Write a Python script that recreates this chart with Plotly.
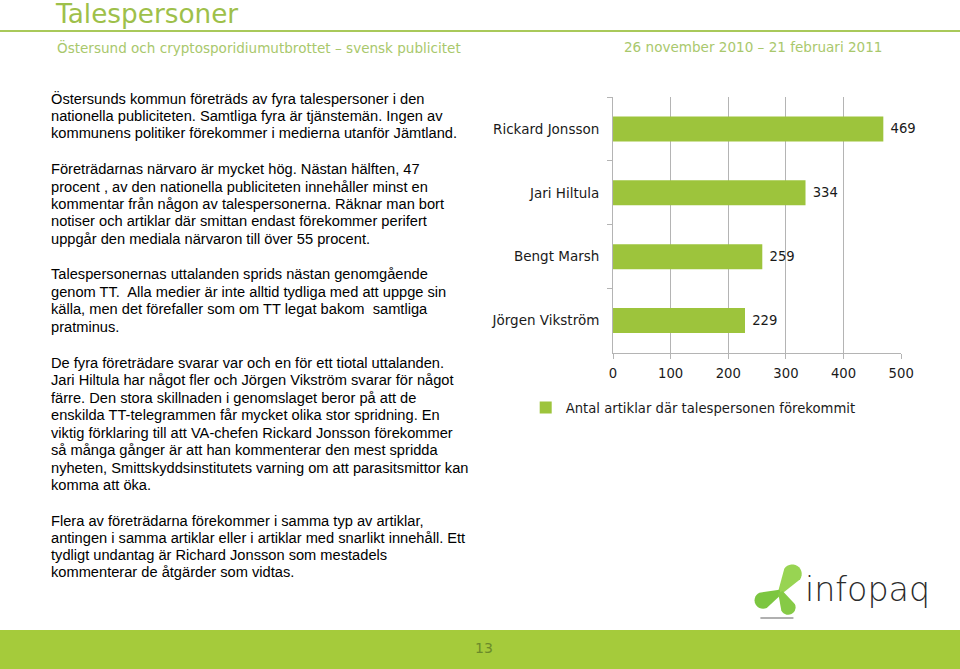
import math
import plotly.graph_objects as go

W, H = 978, 669

# ---- data ----
categories = ["Rickard Jonsson", "Jari Hiltula", "Bengt Marsh", "Jörgen Vikström"]
values = [469, 334, 259, 229]
series_name = "Antal artiklar där talespersonen förekommit"
x_ticks = [0, 100, 200, 300, 400, 500]

title = "Talespersoner"
subtitle_left = "Östersund och cryptosporidiumutbrottet – svensk publicitet"
subtitle_right = "26 november 2010 – 21 februari 2011"
page_number = "13"

paragraph_lines = [
    ["Östersunds kommun företräds av fyra talespersoner i den",
     "nationella publiciteten. Samtliga fyra är tjänstemän. Ingen av",
     "kommunens politiker förekommer i medierna utanför Jämtland."],
    ["Företrädarnas närvaro är mycket hög. Nästan hälften, 47",
     "procent , av den nationella publiciteten innehåller minst en",
     "kommentar från någon av talespersonerna. Räknar man bort",
     "notiser och artiklar där smittan endast förekommer perifert",
     "uppgår den mediala närvaron till över 55 procent."],
    ["Talespersonernas uttalanden sprids nästan genomgående",
     "genom TT.  Alla medier är inte alltid tydliga med att uppge sin",
     "källa, men det förefaller som om TT legat bakom  samtliga",
     "pratminus."],
    ["De fyra företrädare svarar var och en för ett tiotal uttalanden.",
     "Jari Hiltula har något fler och Jörgen Vikström svarar för något",
     "färre. Den stora skillnaden i genomslaget beror på att de",
     "enskilda TT-telegrammen får mycket olika stor spridning. En",
     "viktig förklaring till att VA-chefen Rickard Jonsson förekommer",
     "så många gånger är att han kommenterar den mest spridda",
     "nyheten, Smittskyddsinstitutets varning om att parasitsmittor kan",
     "komma att öka."],
    ["Flera av företrädarna förekommer i samma typ av artiklar,",
     "antingen i samma artiklar eller i artiklar med snarlikt innehåll. Ett",
     "tydligt undantag är Richard Jonsson som mestadels",
     "kommenterar de åtgärder som vidtas."],
]
paragraph_tops = [98.5, 169.5, 274, 362.7, 520.7]
line_step = [17.1, 17.25, 17.5, 17.5, 17.2]

GREEN = "#9dc43c"
BAND = "#a5cb3b"
TITLE_C = "#9ec04a"
SUB_C = "#a9c86c"
GRID = "#b4b4b4"


def X(x):
    # slide pixel -> figure pixel (figure is shifted 4px left in the page)
    return (x - 4) / 0.982 + 4


def px(x):
    return x / W


def py(y):
    return 1 - y / H


fig = go.Figure()
fig.add_trace(go.Bar(
    x=values, y=categories, orientation="h",
    marker=dict(color=GREEN, line=dict(width=0)),
    name=series_name,
    text=[str(v) for v in values], texttemplate="\u00a0%{text}", textposition="outside",
    textfont=dict(family="DejaVu Sans", size=13.2, color="#1a1a1a"),
    cliponaxis=False, showlegend=True,
))

annotations = []
annotations.append(dict(text=title, x=px(54), y=py(14), xref="paper", yref="paper",
                        xanchor="left", yanchor="middle", showarrow=False,
                        font=dict(family="DejaVu Sans", size=26.3, color=TITLE_C)))
annotations.append(dict(text=subtitle_left, x=px(56), y=py(47), xref="paper", yref="paper",
                        xanchor="left", yanchor="middle", showarrow=False,
                        font=dict(family="DejaVu Sans", size=13.55, color=SUB_C)))
annotations.append(dict(text=subtitle_right, x=px(633), y=py(47), xref="paper", yref="paper",
                        xanchor="left", yanchor="middle", showarrow=False,
                        font=dict(family="DejaVu Sans", size=13.55, color=SUB_C)))

for lines, top, step in zip(paragraph_lines, paragraph_tops, line_step):
    for i, ln in enumerate(lines):
        annotations.append(dict(text=ln, x=px(50), y=py(top + i * step), xref="paper", yref="paper",
                                xanchor="left", yanchor="middle", showarrow=False,
                                font=dict(family="Liberation Sans, Arial", size=14.65, color="#000000")))

annotations.append(dict(text=page_number, x=px(X(484)), y=py(648), xref="paper", yref="paper",
                        xanchor="center", yanchor="middle", showarrow=False,
                        font=dict(family="DejaVu Sans", size=14, color="#6b8a2a")))
annotations.append(dict(text="infopaq", x=px(817), y=py(589), xref="paper", yref="paper",
                        xanchor="left", yanchor="middle", showarrow=False,
                        font=dict(family="DejaVu Sans Light, DejaVu Sans ExtraLight, Lato", size=33.3, color="#2b2b2b")))

shapes = []
shapes.append(dict(type="line", xref="paper", yref="paper", x0=0, x1=1, y0=py(31), y1=py(31),
                   line=dict(color="#a9c95a", width=2)))
shapes.append(dict(type="rect", xref="paper", yref="paper", x0=0, x1=1, y0=0, y1=py(630),
                   fillcolor=BAND, line=dict(width=0), layer="below"))


def path_px(pts):
    return "M " + " L ".join(f"{px(X(x)):.5f},{py(y):.5f}" for x, y in pts) + " Z"


def funnel(cx, cy, tx, ty, r0, r1):
    # cone from centre (narrow, half-width r0) to a rounded outer end (half-width r1)
    dx, dy = tx - cx, ty - cy
    L = math.hypot(dx, dy)
    ux, uy = dx / L, dy / L
    nx, ny = -uy, ux
    ex, ey = tx - ux * r1, ty - uy * r1
    pts = [(cx + nx * r0, cy + ny * r0)]
    n = 14
    for k in range(n + 1):
        a = math.pi / 2 - math.pi * k / n
        pts.append((ex + nx * r1 * math.sin(a) + ux * r1 * math.cos(a),
                    ey + ny * r1 * math.sin(a) + uy * r1 * math.cos(a)))
    pts.append((cx - nx * r0, cy - ny * r0))
    return pts


shapes.append(dict(type="line", xref="paper", yref="paper", x0=px(X(760)), x1=px(X(793)), y0=py(618), y1=py(618),
                   line=dict(color="#b0b0b0", width=2)))
for (tx, ty, r0, r1, col) in [(797, 566, 2.5, 9.5, "#98d452"),
                              (755, 604, 2.5, 8.5, "#7cc640"),
                              (791, 614, 2.5, 7.5, "#86ca46")]:
    shapes.append(dict(type="path", xref="paper", yref="paper", path=path_px(funnel(780, 592, tx, ty, r0, r1)),
                       fillcolor=col, line=dict(width=0)))

fig.update_layout(
    width=W, height=H, autosize=False, margin=dict(l=0, r=0, t=0, b=0),
    paper_bgcolor="white", plot_bgcolor="white",
    bargap=0.61,
    xaxis=dict(domain=[px(X(612.7)), px(X(900.7))], range=[0, 500], tickvals=x_ticks,
               ticktext=[str(t) for t in x_ticks],
               showgrid=True, gridcolor=GRID, gridwidth=1,
               zeroline=False, showline=True, linecolor=GRID, linewidth=1,
               ticks="outside", ticklen=5, tickcolor=GRID,
               tickfont=dict(family="DejaVu Sans", size=13.2, color="#1a1a1a"),
               ticklabelstandoff=4, fixedrange=True),
    yaxis=dict(domain=[py(352.5), py(97)], categoryorder="array", categoryarray=categories,
               autorange="reversed", showline=True, linecolor=GRID, linewidth=1,
               ticks="outside", ticklen=5, tickcolor=GRID, tickson="boundaries",
               showgrid=False, tickfont=dict(family="DejaVu Sans", size=13.5, color="#1a1a1a"),
               ticklabelstandoff=10),
    legend=dict(x=px(535), y=py(408), xanchor="left", yanchor="middle",
                font=dict(family="DejaVu Sans", size=13.2, color="#1a1a1a"),
                bgcolor="rgba(0,0,0,0)"),
    annotations=annotations, shapes=shapes,
)

fig.write_html("out.html", config={"displayModeBar": False, "responsive": False},
               post_script="document.body.style.margin='0 0 0 -4px';document.body.style.overflow='hidden';")
